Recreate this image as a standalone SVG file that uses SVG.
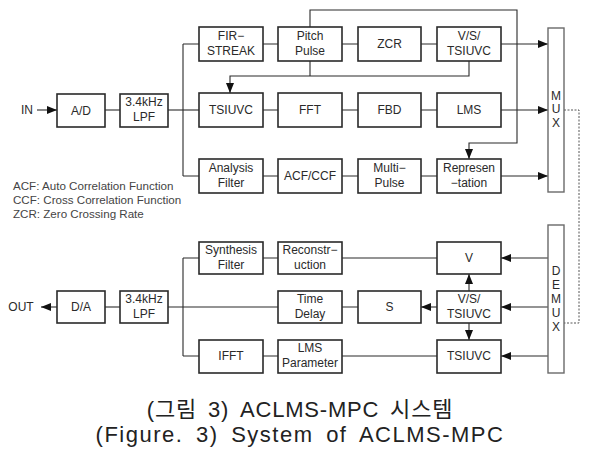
<svg xmlns="http://www.w3.org/2000/svg" width="599" height="461" viewBox="0 0 599 461">
<style>
.b{fill:#fff;stroke:#2a2a2a;stroke-width:1.6}
.m{fill:#fff;stroke:#6a6a6a;stroke-width:1.4}
.t{font-family:"Liberation Sans",Arial,sans-serif;font-size:12px;fill:#2a2a2a;text-anchor:middle}
.l{font-family:"Liberation Sans",Arial,sans-serif;font-size:11.6px;fill:#444}
.c{font-family:"Liberation Sans","Noto Sans CJK KR",sans-serif;font-size:22px;fill:#222;text-anchor:middle}
.w{fill:none;stroke:#2a2a2a;stroke-width:1.1}
.a{fill:none;stroke:#2a2a2a;stroke-width:1.1;marker-end:url(#ah)}
.d{fill:none;stroke:#555;stroke-width:1;stroke-dasharray:2 1.5}
</style>
<defs>
<marker id="ah" viewBox="0 0 10 8" refX="10" refY="4" markerWidth="10" markerHeight="8" markerUnits="userSpaceOnUse" orient="auto">
<path d="M0,0 L10,4 L0,8 z" fill="#111"/>
</marker>
</defs>
<rect width="599" height="461" fill="#fff"/>
<g id="connectors">
<path class="a" d="M37,110 H57"/>
<path class="w" d="M105,110 H120"/>
<path class="w" d="M168,110 H199"/>
<path class="w" d="M183,44 V176"/>
<path class="w" d="M183,44 H199 M183,176 H199"/>
<path class="w" d="M263,44 H278 M342,44 H358 M421,44 H437"/>
<path class="w" d="M263,110 H278 M342,110 H358 M421,110 H437"/>
<path class="w" d="M263,176 H278 M342,176 H358 M421,176 H437"/>
<path class="a" d="M501,44 H548"/>
<path class="a" d="M501,110 H548"/>
<path class="a" d="M501,176 H548"/>
<path class="a" d="M310,27 V10 H517 V143 H469 V159"/>
<path class="a" d="M469,61 V76 H230 V93"/>
<path class="w" d="M310,61 V76"/>
<path class="d" d="M564,110 H579 V323 H564"/>
<path class="a" d="M548,258 H501"/>
<path class="a" d="M548,307 H501"/>
<path class="a" d="M548,356 H501"/>
<path class="a" d="M469,291 V274"/>
<path class="a" d="M469,323 V340"/>
<path class="a" d="M437,307 H421"/>
<path class="w" d="M437,258 H342 M358,307 H342 M437,356 H342"/>
<path class="w" d="M263,258 H278 M263,356 H278"/>
<path class="w" d="M183,258 V356 M183,258 H199 M183,356 H199"/>
<path class="w" d="M168,307 H278"/>
<path class="w" d="M105,307 H120"/>
<path class="a" d="M57,307 H41"/>
</g>
<g id="in"><text class="t" x="27" y="114">IN</text></g>
<g id="ad"><rect class="b" x="57" y="94" width="48" height="33"/><text class="t" x="81" y="115">A/D</text></g>
<g id="lpf1"><rect class="b" x="120" y="94" width="48" height="33"/><text class="t" x="144" y="106">3.4kHz</text><text class="t" x="144" y="121">LPF</text></g>
<g id="fir"><rect class="b" x="199" y="27" width="64" height="34"/><text class="t" x="231" y="40">FIR−</text><text class="t" x="231" y="55">STREAK</text></g>
<g id="pitch"><rect class="b" x="278" y="27" width="64" height="34"/><text class="t" x="310" y="40">Pitch</text><text class="t" x="310" y="55">Pulse</text></g>
<g id="zcr"><rect class="b" x="358" y="27" width="63" height="34"/><text class="t" x="389.5" y="48">ZCR</text></g>
<g id="vs1"><rect class="b" x="437" y="27" width="64" height="34"/><text class="t" x="469" y="40">V/S/</text><text class="t" x="469" y="55">TSIUVC</text></g>
<g id="tsiuvc1"><rect class="b" x="199" y="93" width="64" height="34"/><text class="t" x="231" y="114">TSIUVC</text></g>
<g id="fft"><rect class="b" x="278" y="93" width="64" height="34"/><text class="t" x="310" y="114">FFT</text></g>
<g id="fbd"><rect class="b" x="358" y="93" width="63" height="34"/><text class="t" x="389.5" y="114">FBD</text></g>
<g id="lms"><rect class="b" x="437" y="93" width="64" height="34"/><text class="t" x="469" y="114">LMS</text></g>
<g id="analysis"><rect class="b" x="199" y="159" width="64" height="34"/><text class="t" x="231" y="172">Analysis</text><text class="t" x="231" y="187">Filter</text></g>
<g id="acf"><rect class="b" x="278" y="159" width="64" height="34"/><text class="t" x="310" y="180">ACF/CCF</text></g>
<g id="multi"><rect class="b" x="358" y="159" width="63" height="34"/><text class="t" x="389.5" y="172">Multi−</text><text class="t" x="389.5" y="187">Pulse</text></g>
<g id="repr"><rect class="b" x="437" y="159" width="64" height="34"/><text class="t" x="469" y="172">Represen</text><text class="t" x="469" y="187">−tation</text></g>
<g id="mux"><rect class="m" x="548" y="28" width="16" height="164"/><text class="t" x="556" y="100">M</text><text class="t" x="556" y="113">U</text><text class="t" x="556" y="127">X</text></g>
<g id="legend"><text class="l" x="13" y="190">ACF: Auto Correlation Function</text><text class="l" x="13" y="204">CCF: Cross Correlation Function</text><text class="l" x="13" y="218">ZCR: Zero Crossing Rate</text></g>
<g id="demux"><rect class="m" x="548" y="225" width="16" height="148"/><text class="t" x="556" y="275">D</text><text class="t" x="556" y="289">E</text><text class="t" x="556" y="303">M</text><text class="t" x="556" y="317">U</text><text class="t" x="556" y="331">X</text></g>
<g id="v"><rect class="b" x="437" y="242" width="64" height="32"/><text class="t" x="469" y="262">V</text></g>
<g id="vs2"><rect class="b" x="437" y="291" width="64" height="32"/><text class="t" x="469" y="303">V/S/</text><text class="t" x="469" y="318">TSIUVC</text></g>
<g id="tsiuvc2"><rect class="b" x="437" y="340" width="64" height="33"/><text class="t" x="469" y="360">TSIUVC</text></g>
<g id="s"><rect class="b" x="358" y="291" width="63" height="32"/><text class="t" x="389.5" y="311">S</text></g>
<g id="recon"><rect class="b" x="278" y="242" width="64" height="32"/><text class="t" x="310" y="254">Reconstr−</text><text class="t" x="310" y="269">uction</text></g>
<g id="delay"><rect class="b" x="278" y="291" width="64" height="32"/><text class="t" x="310" y="303">Time</text><text class="t" x="310" y="318">Delay</text></g>
<g id="lmsp"><rect class="b" x="278" y="340" width="64" height="33"/><text class="t" x="310" y="352">LMS</text><text class="t" x="310" y="367">Parameter</text></g>
<g id="synth"><rect class="b" x="199" y="242" width="64" height="32"/><text class="t" x="231" y="254">Synthesis</text><text class="t" x="231" y="269">Filter</text></g>
<g id="ifft"><rect class="b" x="199" y="340" width="64" height="33"/><text class="t" x="231" y="360">IFFT</text></g>
<g id="lpf2"><rect class="b" x="120" y="291" width="48" height="32"/><text class="t" x="144" y="303">3.4kHz</text><text class="t" x="144" y="318">LPF</text></g>
<g id="da"><rect class="b" x="57" y="291" width="48" height="32"/><text class="t" x="81" y="311">D/A</text></g>
<g id="out"><text class="t" x="21" y="311">OUT</text></g>
<g id="caption"><text class="c" x="300" y="417" letter-spacing="0.8" word-spacing="4">(그림 3) ACLMS-MPC 시스템</text><text class="c" x="300" y="442" letter-spacing="1.5" word-spacing="5">(Figure. 3) System of ACLMS-MPC</text></g>
</svg>
